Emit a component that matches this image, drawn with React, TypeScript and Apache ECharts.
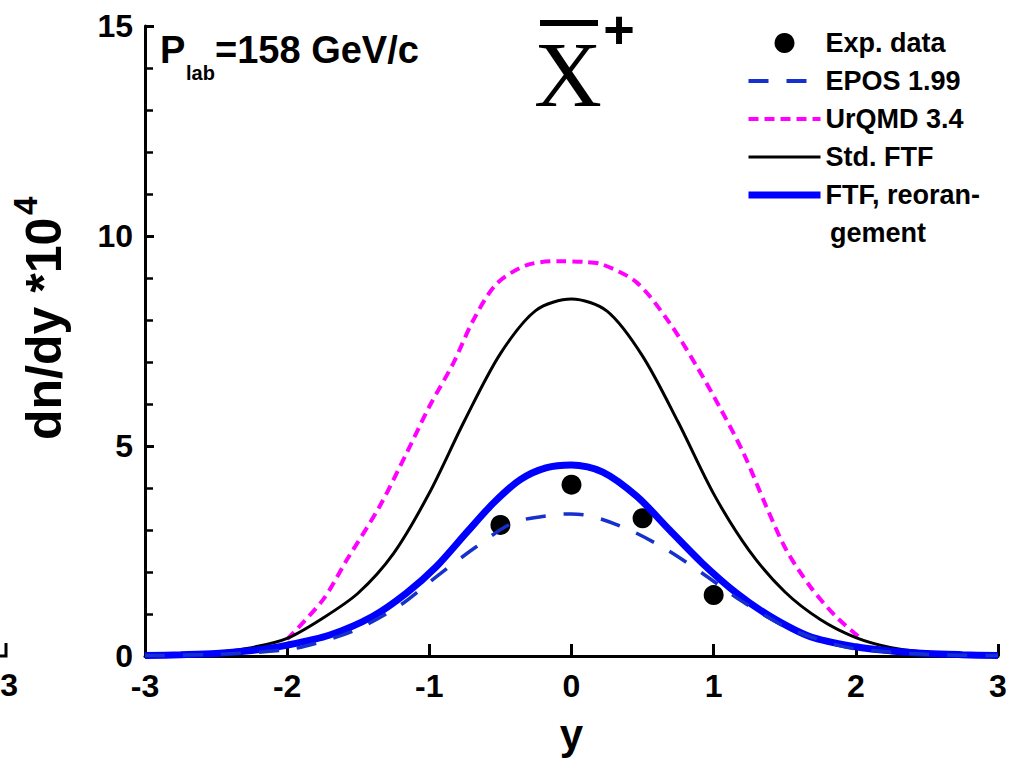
import React, { useEffect, useRef } from 'react';
import * as echarts from 'echarts';

// ---- data ----
const expData: number[][] = [[-0.5, 3.12], [0, 4.08], [0.5, 3.28], [1, 1.45]];

const eposData: number[][] = [
  [-3, 0.01], [-2.5, 0.04], [-2, 0.15], [-1.75, 0.35], [-1.5, 0.65], [-1.2, 1.22],
  [-0.95, 1.89], [-0.67, 2.6], [-0.41, 3.17], [-0.13, 3.36], [0, 3.38], [0.15, 3.32],
  [0.41, 3.0], [0.67, 2.53], [0.92, 1.97], [1.2, 1.3], [1.5, 0.7], [1.75, 0.38],
  [2, 0.17], [2.5, 0.04], [3, 0.01],
];

const urqmdData: number[][] = [
  [-2, 0.4], [-1.75, 1.33], [-1.58, 2.29], [-1.35, 3.56], [-1.16, 4.83], [-1, 5.94],
  [-0.83, 6.98], [-0.69, 8.0], [-0.53, 8.85], [-0.32, 9.3], [-0.1, 9.4], [0.1, 9.38],
  [0.22, 9.32], [0.46, 8.89], [0.69, 7.93], [0.88, 6.9], [1.04, 5.94], [1.21, 4.83],
  [1.37, 3.56], [1.51, 2.53], [1.68, 1.65], [1.86, 0.94], [2.05, 0.38],
];

const stdFtfData: number[][] = [
  [-3, 0.01], [-2.75, 0.03], [-2.5, 0.09], [-2.25, 0.2], [-2, 0.42], [-1.75, 0.9],
  [-1.5, 1.5], [-1.25, 2.45], [-1, 3.88], [-0.75, 5.62], [-0.5, 7.2], [-0.25, 8.23],
  [0, 8.5], [0.25, 8.21], [0.5, 7.14], [0.75, 5.57], [1, 3.86], [1.25, 2.51],
  [1.5, 1.53], [1.75, 0.87], [2, 0.44], [2.25, 0.2], [2.5, 0.09], [2.75, 0.03], [3, 0.01],
];

const ftfReorgData: number[][] = [
  [-3, 0.01], [-2.75, 0.03], [-2.5, 0.06], [-2.25, 0.13], [-2, 0.26], [-1.7, 0.5],
  [-1.4, 0.94], [-1.16, 1.5], [-0.95, 2.13], [-0.74, 2.93], [-0.55, 3.64], [-0.36, 4.2],
  [-0.18, 4.48], [0, 4.55], [0.22, 4.38], [0.46, 3.8], [0.69, 3.0], [0.92, 2.21],
  [1.16, 1.5], [1.4, 0.94], [1.68, 0.46], [2, 0.22], [2.25, 0.12], [2.5, 0.06],
  [2.75, 0.03], [3, 0.01],
];

const seriesNames = ['Exp. data', 'EPOS 1.99', 'UrQMD 3.4', 'Std. FTF', 'FTF, reorangement'];

const FONT = '"Liberation Sans", Arial, sans-serif';
const C_EPOS = '#1530cc';
const C_URQMD = '#ff00ff';
const C_FTF = '#0000ff';
const SMOOTH = 0.3;

export default function App() {
  const ref = useRef<HTMLDivElement>(null);

  useEffect(() => {
    const chart = echarts.init(ref.current!, null, { renderer: 'svg' });
    chart.setOption({
      animation: false,
      backgroundColor: '#ffffff',
      grid: { left: 145, right: 12, top: 26, bottom: 105, containLabel: false, outerBoundsMode: 'none' },
      xAxis: {
        type: 'value',
        min: -3,
        max: 3,
        interval: 1,
        name: 'y',
        nameLocation: 'middle',
        nameGap: 57,
        nameTextStyle: { fontFamily: FONT, fontWeight: 'bold', fontSize: 42, color: '#000' },
        axisLine: { show: true, onZero: false, lineStyle: { color: '#000', width: 3 } },
        axisTick: { show: true, inside: true, length: 12, lineStyle: { color: '#000', width: 3 } },
        axisLabel: { fontFamily: FONT, fontWeight: 'bold', fontSize: 32, color: '#000', margin: 14 },
        splitLine: { show: false },
      },
      yAxis: {
        type: 'value',
        min: 0,
        max: 15,
        interval: 5,
        axisLine: { show: true, onZero: false, lineStyle: { color: '#000', width: 3 } },
        axisTick: { show: true, inside: true, length: 9, lineStyle: { color: '#000', width: 3 } },
        minorTick: { show: true, splitNumber: 5, length: 8, lineStyle: { color: '#000', width: 2.5 } },
        axisLabel: { fontFamily: FONT, fontWeight: 'bold', fontSize: 32, color: '#000', margin: 12 },
        splitLine: { show: false },
        minorSplitLine: { show: false },
      },
      legend: {
        orient: 'vertical',
        left: 740,
        top: 24,
        itemWidth: 72,
        itemHeight: 20,
        itemGap: 10,
        data: [
          { name: seriesNames[0] },
          { name: seriesNames[1], itemStyle: { opacity: 0 }, lineStyle: { width: 4, color: C_EPOS } },
          { name: seriesNames[2], itemStyle: { opacity: 0 }, lineStyle: { width: 4, color: C_URQMD } },
          { name: seriesNames[3], itemStyle: { opacity: 0 }, lineStyle: { width: 3, color: '#000' } },
          { name: seriesNames[4], itemStyle: { opacity: 0 }, lineStyle: { width: 7, color: C_FTF } },
        ],
        formatter: (name: string) => (name === 'FTF, reorangement' ? 'FTF, reoran-' : name),
        textStyle: { fontFamily: FONT, fontWeight: 'bold', fontSize: 27, color: '#000', lineHeight: 28 },
      },
      graphic: [
        // title: anti-Xi plus
        {
          type: 'text', x: 568, y: 74,
          style: { text: 'X', fontFamily: '"Liberation Serif", "Times New Roman", serif', fontSize: 94, fill: '#000', align: 'center', verticalAlign: 'middle' },
        },
        { type: 'rect', shape: { x: 540, y: 20, width: 58, height: 6 }, style: { fill: '#000' } },
        {
          type: 'text', x: 619, y: 29,
          style: { text: '+', fontFamily: FONT, fontWeight: 'bold', fontSize: 54, fill: '#000', align: 'center', verticalAlign: 'middle' },
        },
        // P_lab label
        {
          type: 'text', x: 160, y: 50,
          style: { text: 'P', fontFamily: FONT, fontWeight: 'bold', fontSize: 38, fill: '#000', align: 'left', verticalAlign: 'middle' },
        },
        {
          type: 'text', x: 186, y: 73,
          style: { text: 'lab', fontFamily: FONT, fontWeight: 'bold', fontSize: 20, fill: '#000', align: 'left', verticalAlign: 'middle' },
        },
        {
          type: 'text', x: 215, y: 50,
          style: { text: '=158 GeV/c', fontFamily: FONT, fontWeight: 'bold', fontSize: 38, fill: '#000', align: 'left', verticalAlign: 'middle' },
        },
        // legend second line
        {
          type: 'text', x: 830, y: 233,
          style: { text: 'gement', fontFamily: FONT, fontWeight: 'bold', fontSize: 27, fill: '#000', align: 'left', verticalAlign: 'middle' },
        },
        // y-axis title, rotated
        {
          type: 'group', x: 44, y: 440, rotation: Math.PI / 2,
          children: [
            {
              type: 'text', x: 0, y: 0,
              style: { text: 'dn/dy *10', fontFamily: FONT, fontWeight: 'bold', fontSize: 50, fill: '#000', align: 'left', verticalAlign: 'middle' },
            },
            {
              type: 'text', x: 225, y: -19,
              style: { text: '4', fontFamily: FONT, fontWeight: 'bold', fontSize: 33, fill: '#000', align: 'left', verticalAlign: 'middle' },
            },
          ],
        },
        // fragments of the neighbouring panel at the left edge
        {
          type: 'text', x: 18, y: 685,
          style: { text: '3', fontFamily: FONT, fontWeight: 'bold', fontSize: 32, fill: '#000', align: 'right', verticalAlign: 'middle' },
        },
        {
          type: 'polyline', shape: { points: [[0, 656], [6, 656], [6, 643]] },
          style: { stroke: '#000', lineWidth: 3, fill: null },
        },
      ],
      series: [
        {
          name: 'Exp. data', type: 'scatter', data: expData, symbol: 'circle', symbolSize: 20,
          itemStyle: { color: '#000', opacity: 1 }, z: 2,
        },
        {
          name: 'UrQMD 3.4', type: 'line', data: urqmdData, smooth: SMOOTH, showSymbol: false, symbol: 'none',
          lineStyle: { color: C_URQMD, width: 4, type: [10, 6] }, itemStyle: { color: C_URQMD }, z: 3,
        },
        {
          name: 'Std. FTF', type: 'line', data: stdFtfData, smooth: SMOOTH, showSymbol: false, symbol: 'none',
          lineStyle: { color: '#000', width: 3 }, itemStyle: { color: '#000' }, z: 3,
        },
        {
          name: 'FTF, reorangement', type: 'line', data: ftfReorgData, smooth: SMOOTH, showSymbol: false, symbol: 'none',
          lineStyle: { color: C_FTF, width: 7 }, itemStyle: { color: C_FTF }, z: 4,
        },
        {
          name: 'EPOS 1.99', type: 'line', data: eposData, smooth: SMOOTH, showSymbol: false, symbol: 'none',
          lineStyle: { color: C_EPOS, width: 3.5, type: [20, 18] }, itemStyle: { color: C_EPOS }, z: 5,
        },
      ],
    });
    return () => chart.dispose();
  }, []);

  return (
    <div
      ref={ref}
      style={{ position: 'fixed', left: 0, top: 0, width: 1010, height: 761, background: '#fff' }}
    />
  );
}
